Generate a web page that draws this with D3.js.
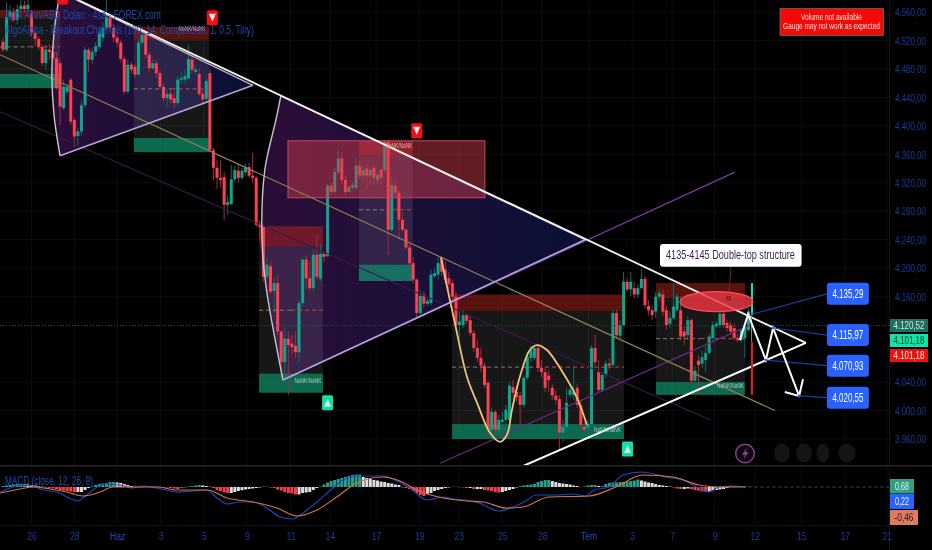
<!DOCTYPE html>
<html><head><meta charset="utf-8">
<script src="https://cdn.jsdelivr.net/npm/d3@7/dist/d3.min.js"></script>
<style>html,body{margin:0;padding:0;background:#000;overflow:hidden}svg{display:block;filter:blur(.3px)}text{font-family:"Liberation Sans",sans-serif}</style>
</head><body><svg id="c" width="932" height="550"></svg>
<script>
// ---------- candle data (4h bars) ----------
const opens=[4518,4507,4553,4560,4549,4564,4569,4564,4557,4531,
4522,4511,4488,4507,4504,4495,4488,4425,4448,4465,
4408,4386,4392,4429,4507,4493,4504,4511,4524,4538,
4552,4538,4524,4517,4494,4448,4486,4483,4472,4517,
4528,4500,4481,4488,4474,4455,4439,4445,4439,4432,
4465,4465,4467,4493,4476,4473,4445,4438,4474,4366,
4341,4327,4328,4289,4290,4325,4337,4327,4335,4342,
4330,4327,4262,4258,4188,4203,4168,4179,4111,4068,
4101,4094,4091,4082,4151,4212,4186,4172,4219,4185,
4220,4217,4316,4307,4335,4354,4324,4307,4313,4313,
4344,4330,4340,4330,4341,4324,4338,4338,4378,4254,
4316,4306,4268,4254,4229,4207,4184,4137,4163,4150,
4151,4189,4191,4212,4198,4186,4179,4160,4120,4120,
4134,4127,4109,4088,4074,4063,4039,3973,3998,3973,
3984,3987,3987,4033,4026,4021,4008,4046,4074,4074,
4088,4060,4054,4049,4032,4021,4016,3969,3977,4022,
4022,4032,4007,3977,3976,3981,4088,4054,4029,4050,
4066,4064,4137,4105,4120,4181,4170,4172,4163,4172,
4185,4147,4141,4139,4160,4163,4141,4122,4130,4141,
4141,4111,4106,4127,4042,4070,4066,4071,4081,4102,
4118,4120,4136,4123,4120,4116,4102,4099,4102,4113];
const closes=[4507,4553,4560,4549,4564,4569,4564,4570,4531,4522,
4511,4488,4507,4504,4495,4453,4427,4455,4455,4406,
4385,4392,4429,4507,4493,4504,4512,4531,4538,4553,
4538,4524,4517,4494,4448,4486,4479,4472,4517,4528,
4500,4481,4488,4474,4455,4439,4445,4437,4432,4465,
4467,4470,4494,4479,4479,4445,4437,4463,4366,4341,
4327,4324,4289,4293,4325,4338,4327,4337,4342,4330,
4327,4261,4258,4188,4205,4167,4179,4111,4068,4101,
4092,4089,4082,4151,4212,4186,4172,4219,4188,4220,
4216,4316,4307,4335,4354,4324,4307,4314,4317,4344,
4330,4338,4330,4338,4327,4331,4327,4378,4254,4317,
4306,4268,4254,4229,4207,4184,4137,4161,4150,4154,
4191,4193,4207,4195,4184,4178,4160,4120,4125,4134,
4126,4109,4088,4074,4063,4036,3973,3998,3973,3987,
3987,4001,4035,4025,4019,4008,4046,4075,4085,4088,
4060,4054,4032,4043,4021,4015,3969,3977,4011,4029,
4026,4008,3980,3973,3981,4088,4068,4029,4050,4066,
4063,4137,4106,4120,4181,4170,4181,4163,4172,4185,
4148,4141,4134,4160,4165,4139,4120,4130,4146,4160,
4104,4104,4127,4042,4056,4064,4075,4081,4104,4120,
4122,4136,4120,4116,4111,4102,4099,4113,4118,4139];
const highs=[4524,4574,4570,4566,4571,4577,4576,4577,4563,4535,
4526,4515,4514,4515,4510,4504,4493,4465,4459,4467,
4411,4397,4437,4511,4510,4510,4518,4538,4546,4577,
4560,4543,4532,4521,4498,4493,4490,4487,4521,4539,
4531,4504,4493,4493,4479,4459,4451,4451,4448,4470,
4476,4479,4514,4498,4484,4481,4453,4467,4479,4369,
4352,4352,4335,4303,4345,4344,4345,4341,4347,4348,
4362,4330,4268,4261,4215,4209,4186,4191,4113,4116,
4111,4106,4111,4155,4215,4219,4209,4226,4247,4233,
4223,4318,4320,4341,4366,4363,4330,4317,4321,4355,
4352,4344,4345,4344,4347,4335,4341,4380,4380,4330,
4324,4310,4279,4257,4234,4215,4186,4170,4167,4158,
4198,4200,4215,4217,4209,4195,4184,4167,4139,4141,
4137,4133,4113,4099,4088,4068,4043,4004,4001,3994,
3998,4008,4040,4043,4035,4026,4049,4082,4091,4092,
4091,4071,4060,4057,4037,4029,4022,3987,4032,4036,
4063,4037,4015,3984,3987,4092,4106,4071,4054,4071,
4074,4141,4141,4127,4195,4186,4195,4181,4178,4198,
4189,4155,4148,4167,4170,4170,4147,4139,4179,4164,
4161,4119,4133,4130,4063,4078,4085,4091,4108,4125,
4125,4139,4139,4127,4125,4122,4108,4105,4123,4144];
const lows=[4504,4504,4549,4546,4543,4560,4560,4560,4526,4512,
4507,4484,4479,4493,4490,4451,4401,4422,4445,4401,
4370,4372,4386,4425,4476,4487,4498,4507,4518,4535,
4532,4518,4510,4490,4444,4445,4473,4467,4470,4512,
4495,4476,4479,4467,4451,4434,4425,4431,4425,4428,
4459,4459,4465,4473,4472,4442,4431,4434,4363,4324,
4311,4313,4268,4275,4289,4321,4320,4324,4332,4327,
4320,4258,4240,4181,4184,4163,4137,4106,4046,4040,
4022,4078,4074,4068,4147,4170,4167,4167,4184,4181,
4209,4215,4303,4306,4331,4318,4303,4306,4310,4310,
4324,4321,4310,4317,4317,4318,4317,4335,4219,4251,
4302,4240,4251,4226,4203,4179,4130,4134,4144,4147,
4148,4186,4184,4189,4178,4170,4153,4113,4099,4116,
4122,4105,4082,4068,4054,4032,3964,3970,3970,3963,
3973,3967,3984,4015,4012,3981,4004,4043,4068,4071,
4054,4046,4026,4026,4015,4008,3945,3956,3973,4018,
4015,4004,3973,3967,3966,3978,4063,4026,4026,4046,
4057,4060,4102,4102,4119,4167,4161,4158,4158,4170,
4144,4134,4127,4130,4155,4133,4113,4116,4127,4139,
4099,4092,4099,4039,4021,4022,4060,4054,4078,4096,
4116,4116,4116,4111,4106,4099,4096,4096,4074,4111];
const lastBarUp=[4137,4179], lastBarMid=[4096,4137], lastBarDown=[4022,4096];

// ---------- axes ----------
const priceTicks=[4560,4520,4480,4440,4400,4360,4320,4280,4240,4200,4160,4040,4000,3960];
const timeTickBars=[8,20,32,44.2,56.3,68.4,80.6,91.6,104.6,116.7,127.8,140,151.2,164.2,176.4,187.6,199.5,210.8,223.8,236,247.8];
const timeTickLabels=["26","28","Haz","3","5","9","11","14","17","19","23","25","28","Tem","3","7","9","12","15","17","21"];
const monthLabels=["Haz","Tem"];
const lastPrice=4120.52, tagGreen="4.101,18", tagRed="4.101,18";
const macdTags=["0,68","0,22","-0,46"];

// ---------- MACD pane ----------
const histogram=[2,3,4,5,6,6,6,5,4,3,1,.6,-1,-2,-3,-4,-6,-7,-8,-9,-10,-10,-10,-6,-2,1,4,6,7,8,10,10,9,8,6,4,2,.6,-.4,-.4,.4,.6,.6,.6,.4,-.6,-1,-2,-3,-4,-1,-.6,1,2,3,4,3,2,.6,-2,-6,-8,-11,-12,-12,-10,-8,-6.4,-5,-4,-3,-2,-1,1,1,-1,-2,-5,-7,-10,-12,-13,-15,-15,-12,-11,-10,-6,-2,1,5,9,12,14,16,18,20,22,24,25,25,20,18,16,14,13,11,10,8,7,5,4,-1,-2,-4,-8,-12,-16,-18,-14,-12,-8,-6,-4,-2,-1,.6,.6,-.6,-1,-2,-2,-4,-4,-4,-6,-7,-8,-10,-11,-10,-8,-6,-4,-1,2,3,4,5,6,10,12,14,14,12,10,8,7,6,5,3,2,-.6,1,3,4,4,2,1,6,8,9,9,10,10,11,12,13,15,13,11,9,8,6,4,3,2,1,-1,-3,-4,-4,-3,-4,-6,-7,-9,-10,-9,-7,-6,-5,-4,-2,2,1,1,1,.6,.6,.4];
const macdBars=[-.8,2,4.8,8.4,11.2,15.1,17.9,21,22.4,26.4,29.2,32.8,36.4,39.2,43.2,48.8,53.3,57.2,60,62.8,66.4,70.1,74,77.7,81.3,83.3,88,92.5,95.3,99.2,106.5,110.5,114.1,118.9,123.4,126.2,129.8,133.5,139,143,146.6,149.4,155,159.8,163.4,165.7,169.9,173.8,178.9,185.9,190.6,195.1,198,200.7,204.1,208.3];
const macdLine=[-10,-2,4,2,-6,-10,-20,-28,-22,0,6,4,-2,2,-2,-10,-8,-6,-22,-34,-30,-30,-42,-60,-64,-56,-30,-2,14,22,22,12,-2,-26,-20,-24,-26,-32,-48,-40,-28,-16,-16,-14,-18,-6,0,24,30,20,14,-2,-10,0,2,0];
const signalBars=[-.8,4.8,8.4,13.2,17.9,22.4,27.2,30.8,36.4,43.2,48.8,57.2,62.8,70.1,76.8,82.4,88,93.6,99.2,106.5,111.3,116,123.4,129.8,134.6,141,145.8,153,164.3,171.8,179.4,187.8,195.1,200.7,208.3];
const signalLine=[-12,-4,0,-4,-10,-18,-10,0,0,0,-6,-6,-22,-30,-42,-58,-46,-20,8,20,12,-6,-22,-28,-30,-42,-40,-20,-18,0,24,20,4,0,0];

// ---------- drawings, as [bar, price] ----------
const trendTop=[[21,4577],[225.1,4095]], trendBottom=[[145.8,3922],[225.1,4095]];
const tanLine=[[-.84,4500],[216.4,4000]], purpleDown=[[-.84,4420],[198.2,3987]];
const purpleUpA=[[78.5,4043],[205.2,4335]], purpleUpB=[[122.5,3926],[209.4,4120]];
const wedge1Arc=[[16,4358],[14.3,4415],[13.7,4473],[14.3,4531],[16,4588]], wedge1Apex=[70.1,4457];
const wedge2Arc=[[78.5,4043],[73.7,4176],[72.6,4243],[73.4,4338],[76.5,4408],[77.9,4442]], wedge2Apex=[163.2,4240];
const resistanceZone=[79.9,135.1,4379,4299];
// barStart, barEnd, redTop, redBottom, greenTop, greenBottom, mid
const boxStart=[-1,36.7,71.8,99.8,125.9,183.1], boxEnd=[16,57.8,89.7,114.9,174.1,208];
const boxRedTop=[4563,4539,4259,4379,4163,4179], boxRedBottom=[4552,4521,4231,4359,4140,4158];
const boxGreenTop=[4473,4383,4052,4205,3981,4040], boxGreenBottom=[4453,4363,4025,4182,3960,4022];
const boxMid=[4511,4452,4141,4282,4061,4101];
const cupCurve=[[122.8,4215],[125.3,4155],[126.7,4123],[130.1,4047],[132.9,4011],[136.5,3969],[139.3,3956],[141.3,3966],[142.7,4001],[144.9,4047],[147.7,4085],[149.7,4092],[152.5,4085],[157,4053],[160.9,4018],[163.7,3980]];
const targetValues=[4135.29,4115.97,4070.93,4020.55];
const targetLabels=["4.135,29","4.115,97","4.070,93","4.020,55"];
const targetAnchorBars=[210,215.9,213.9,223.2];
const targetTagPrices=[4164,4106,4063,4018];
const zigzagBars=[206.6,208.9,213.9,215.9,223.2];
const zigzagPrices=[4099,4135.29,4070.93,4115.97,4020.55];
const arrowHead=[[219.2,4026],[223.2,4020.55],[224.3,4044]];
const ellipseZone=[189.8,210.3,4167,4139];
const noteText="4135-4145 Double-top structure";
const downFlags=[[16.7,4581],[58.7,4552],[116,4393]], upFlags=[[91,4011],[175.1,3946]];
const nanTags=[[53,4533,"r"],[85.5,4038,"g"],[111,4369,"r"],[169.5,3970,"g"],[204,4031,"g"]];

// ---------- scales ----------
const W=932,H=550,axisX=889,paneBottom=465;
const x=d3.scaleLinear().domain([0,210]).range([3,752]);
const y=d3.scaleLinear().domain([4560,3960]).range([12,439]);
const ym=d3.scaleLinear().domain([0,1]).range([487,486.5]);
const svg=d3.select("#c");
const defs=svg.append("defs");
defs.append("clipPath").attr("id","pane").append("rect").attr("width",axisX).attr("height",paneBottom);
function grad(id,a,b){const g=defs.append("linearGradient").attr("id",id).attr("gradientUnits","userSpaceOnUse")
  .attr("x1",x(a)).attr("x2",x(b)).attr("y1",0).attr("y2",0);
  g.append("stop").attr("offset",0).attr("stop-color","#2c0e38");g.append("stop").attr("offset",1).attr("stop-color","#0a1036");}
grad("w1",wedge1Arc[2][0],wedge1Apex[0]);grad("w2",wedge2Arc[2][0],wedge2Apex[0]);

// squeeze a text horizontally to a target width (the reference type is condensed)
function fit(sel,w,factor){sel.each(function(){const l=this.getComputedTextLength();const x0=+this.getAttribute("x")||0;
  const s=factor||w/l;this.setAttribute("transform",`translate(${x0},0) scale(${s},1) translate(${-x0},0)`);});return sel;}

svg.append("rect").attr("width",W).attr("height",H).attr("fill","#000");
// grid
const grid=svg.append("g").attr("stroke","#0b0d11").attr("stroke-width",1);
priceTicks.forEach(p=>grid.append("line").attr("x1",0).attr("x2",axisX).attr("y1",y(p)).attr("y2",y(p)));
timeTickBars.forEach(b=>grid.append("line").attr("x1",x(b)).attr("x2",x(b)).attr("y1",0).attr("y2",525));

const main=svg.append("g").attr("clip-path","url(#pane)");
const ln=d3.line().x(d=>x(d[0])).y(d=>y(d[1]));
const arc=d3.line().x(d=>x(d[0])).y(d=>y(d[1])).curve(d3.curveCatmullRom);
function seg(g,pts,col,w,extra){const s=g.append("path").attr("d",ln(pts)).attr("fill","none").attr("stroke",col).attr("stroke-width",w);if(extra)s.attr("stroke-dasharray",extra);return s;}
// wedges
[[wedge1Arc,wedge1Apex,"w1"],[wedge2Arc,wedge2Apex,"w2"]].forEach(([a,p,id])=>{
  main.append("path").attr("d",arc(a)+"L"+x(p[0])+","+y(p[1])+"Z").attr("fill",`url(#${id})`);
});
// boxes
boxStart.forEach((s,i)=>{
  const r=(t,b,f)=>main.append("rect").attr("x",x(s)).attr("width",x(boxEnd[i])-x(s)).attr("y",y(t)).attr("height",y(b)-y(t)).attr("fill",f);
  r(boxRedTop[i],boxRedBottom[i],"rgba(190,40,30,.47)");
  r(boxRedBottom[i],boxGreenTop[i],"rgba(255,255,255,.09)");
  r(boxGreenTop[i],boxGreenBottom[i],"rgba(20,175,130,.6)");
});
// candles
const idx=d3.range(opens.length);
const cg=main.append("g");
const up="#0ea58b",dn="#fb4152",upW="#0a6f60",dnW="#a52a3c";
cg.selectAll("line").data(idx).join("line").attr("x1",i=>x(i)).attr("x2",i=>x(i))
  .attr("y1",i=>y(highs[i])).attr("y2",i=>y(lows[i])).attr("stroke-width",1)
  .attr("stroke",i=>closes[i]>=opens[i]?upW:dnW);
cg.selectAll("rect").data(idx).join("rect").attr("x",i=>x(i)-1.5).attr("width",3)
  .attr("y",i=>y(Math.max(opens[i],closes[i]))).attr("height",i=>Math.max(1.2,Math.abs(y(opens[i])-y(closes[i]))))
  .attr("fill",i=>closes[i]>=opens[i]?up:dn);
// resistance zone
main.append("rect").attr("x",x(resistanceZone[0])).attr("width",x(resistanceZone[1])-x(resistanceZone[0]))
  .attr("y",y(resistanceZone[2])).attr("height",y(resistanceZone[3])-y(resistanceZone[2]))
  .attr("fill","rgba(214,62,76,.46)").attr("stroke","#c8475f").attr("stroke-width",1);
// mid dashes
boxStart.forEach((s,i)=>{const m=(s+boxEnd[i])/2;
  seg(main,[[s,boxMid[i]],[m,boxMid[i]]],"#7f8078",1,"4 3");
  seg(main,[[m,boxMid[i]],[boxEnd[i],boxMid[i]]],"#c8404a",1,"4 3");
});
// price line
main.append("line").attr("x1",0).attr("x2",axisX).attr("y1",y(lastPrice)+.8).attr("y2",y(lastPrice)+.8).attr("stroke","#0f5f55").attr("stroke-width",1).attr("stroke-dasharray","1 2");
// trend lines
seg(main,purpleDown,"#3b1a4a",1.1);
seg(main,purpleUpB,"#6b2a85",1.2);
seg(main,purpleUpA,"#7a3a9a",1.3);
seg(main,tanLine,"#8f7d55",1.2);
[[wedge1Arc,wedge1Apex],[wedge2Arc,wedge2Apex]].forEach(([a,p])=>{
  main.append("path").attr("d",arc(a)).attr("fill","none").attr("stroke","#c9c4d2").attr("stroke-width",1.4);
  seg(main,[a[0],p],"#b5a5d6",1.6);
  seg(main,[a[a.length-1],p],"#b9b4c8",1.3);
});
seg(main,trendTop,"#f4f4f4",1.8);
seg(main,trendBottom,"#fff",2);
main.append("path").attr("d",arc(cupCurve)).attr("fill","none").attr("stroke","#efc27a").attr("stroke-width",1.8);
// NaN tags
nanTags.forEach(t=>fit(main.append("text").attr("x",x(t[0])).attr("y",y(t[1])).attr("font-size",6.5).attr("text-anchor","middle")
  .attr("fill",t[2]=="g"?"#a9c8c0":"#e8a8a8").text("NaNK/NaNK"),27));
// last bar
[[lastBarUp,"#0fe3a5"],[lastBarMid,"#8f7d55"],[lastBarDown,"#f01818"]].forEach(([r,c])=>
  main.append("rect").attr("x",x(210)-1).attr("width",c=="#8f7d55"?1:2).attr("y",y(r[1])).attr("height",y(r[0])-y(r[1])).attr("fill",c));
// ellipse
const ex0=x(ellipseZone[0]),ex1=x(ellipseZone[1]),ey0=y(ellipseZone[2]),ey1=y(ellipseZone[3]);
main.append("line").attr("x1",x(204.2)).attr("x2",x(203.4)).attr("y1",y(4205)).attr("y2",y(4158)).attr("stroke","#6a2546").attr("stroke-width",1);
main.append("ellipse").attr("cx",(ex0+ex1)/2).attr("cy",(ey0+ey1)/2).attr("rx",(ex1-ex0)/2).attr("ry",(ey1-ey0)/2)
  .attr("fill","rgba(236,54,66,.82)").attr("stroke","#ff4d5a").attr("stroke-width",1.2);
main.append("circle").attr("cx",x(203.4)).attr("cy",y(4158)).attr("r",1.8).attr("fill","none").attr("stroke","#5a1020").attr("stroke-width",1);
// note
const nb=[184.2,223.9,4234,4202];
main.append("rect").attr("x",x(nb[0])).attr("width",x(nb[1])-x(nb[0])).attr("y",y(nb[2])).attr("height",y(nb[3])-y(nb[2])).attr("rx",3).attr("fill","#fff");
fit(main.append("text").attr("x",x(nb[0])+6).attr("y",y(nb[2])+15.5).attr("font-size",12).attr("fill","#3a1d4e").text(noteText),129);
// connectors + target tags
targetValues.forEach((v,i)=>{
  seg(main,[[targetAnchorBars[i],v],[231,targetTagPrices[i]]],"#1b3c9c",1.2);
});
// zigzag
const zig=zigzagBars.map((b,i)=>[b,zigzagPrices[i]]);
main.append("path").attr("d",ln(zig)).attr("fill","none").attr("stroke","#fff").attr("stroke-width",2).attr("stroke-linejoin","miter");
main.append("path").attr("d",ln(arrowHead)).attr("fill","none").attr("stroke","#fff").attr("stroke-width",2);
targetValues.forEach((v,i)=>main.append("circle").attr("cx",x(targetAnchorBars[i])).attr("cy",y(v)).attr("r",1.4).attr("fill","#2962ff"));
targetValues.forEach((v,i)=>{
  const cy=y(targetTagPrices[i]);
  main.append("rect").attr("x",x(231)).attr("width",42).attr("y",cy-11).attr("height",22).attr("rx",3).attr("fill","#2962ff");
  fit(main.append("text").attr("x",x(231)+21).attr("y",cy+4).attr("text-anchor","middle").attr("font-size",12).attr("fill","#fff").text(targetLabels[i]),31);
});
// flags
function flag(b,p,col,dir,tri){const cx=x(b),cy=y(p);
  main.append("rect").attr("x",cx-5.5).attr("y",cy-7.5).attr("width",11).attr("height",15).attr("rx",1.5).attr("fill",col);
  const t=dir<0?[[-3.5,-4],[3.5,-4],[0,4]]:[[-3.5,4],[3.5,4],[0,-4]];
  main.append("polygon").attr("points",t.map(q=>[cx+q[0],cy+q[1]].join(",")).join(" ")).attr("fill",tri);
}
downFlags.forEach(f=>flag(f[0],f[1],"#f40f14",-1,"#f2e6e6"));
upFlags.forEach(f=>flag(f[0],f[1],"#10e0a8",1,"#d4e6e0"));
// lightning + pills
const iconX=[782,804,823,847],iconR=[8,8,6.5,8.5];
iconX.forEach((cx,i)=>svg.append("ellipse").attr("cx",cx).attr("cy",453).attr("rx",iconR[i]).attr("ry",9.5).attr("fill","#141414"));
svg.append("circle").attr("cx",745).attr("cy",453.5).attr("r",9.3).attr("fill","#0c0510").attr("stroke","#8c3d8a").attr("stroke-width",1.5);
svg.append("path").attr("d","M747,447L742,455H745L743.5,460L748.5,452H745.5Z").attr("fill","#8c3d8a");

// ---------- legend ----------
const leg=svg.append("g").attr("fill","#1a4bb0");
fit(leg.append("text").attr("x",5).attr("y",19).attr("font-size",13).text("Spot Altın/ABD Doları · 4sa · FOREX.com"),156);
fit(leg.append("text").attr("x",5).attr("y",34).attr("font-size",13).text("AlgoAlpha - Breakout Channels (100, 14, Comparison, 1, 0,5, Tiny)"),249);
fit(leg.append("text").attr("x",5).attr("y",485).attr("font-size",13).text("MACD (close, 12, 26, 9)"),88);

// ---------- notice ----------
svg.append("rect").attr("x",780).attr("y",8.5).attr("width",103.5).attr("height",27).attr("fill","#f50808").attr("stroke","#4f8f7f").attr("stroke-width",.6);
[["Volume not available",20,61],["Gauge may not work as expected",29.5,97]].forEach(t=>
  fit(svg.append("text").attr("x",831.5).attr("y",t[1]).attr("text-anchor","middle").attr("font-size",9.5).attr("fill","#f6e6d6").text(t[0]),t[2]));

// ---------- panes / separators ----------
svg.append("rect").attr("x",0).attr("y",465).attr("width",W).attr("height",1.5).attr("fill","#262626");
svg.append("rect").attr("x",0).attr("y",525).attr("width",axisX).attr("height",1).attr("fill","#0a0f20");
svg.append("rect").attr("x",axisX).attr("y",0).attr("width",1).attr("height",H).attr("fill","#10141c");

// ---------- MACD ----------
const hg=svg.append("g");
hg.selectAll("rect").data(histogram).join("rect")
  .attr("x",(d,i)=>x(i)-1.5).attr("width",3)
  .attr("y",d=>ym(Math.max(d,0))).attr("height",d=>Math.abs(ym(d)-ym(0)))
  .attr("fill",(d,i)=>{const pv=i?histogram[i-1]:0;
    if(d>=0) return d>=pv?"#2a9d8a":"#dcdcdc"; return d<pv?"#f4404a":"#dcdcdc";});
svg.append("line").attr("x1",x(209)).attr("x2",axisX).attr("y1",ym(0)).attr("y2",ym(0)).attr("stroke","#4a4a4a").attr("stroke-dasharray","3 3");
const ml=(bars,vals,col)=>svg.append("path").attr("d",d3.line().x((d,i)=>x(bars[i])).y(d=>ym(d)).curve(d3.curveMonotoneX)(vals))
  .attr("fill","none").attr("stroke",col).attr("stroke-width",1.2);
ml(macdBars,macdLine,"#1c45c8");
ml(signalBars,signalLine,"#d4763f");

// ---------- axes ----------
const fmt=d3.formatLocale({decimal:",",thousands:".",grouping:[3],currency:["",""]}).format(",.2f");
const axisCol="#1a3a98";
const fontCss='font-family:"Liberation Sans",sans-serif';
const ya=svg.append("g").attr("transform",`translate(${axisX},0)`).call(d3.axisRight(y).tickValues(priceTicks).tickSize(0).tickPadding(6).tickFormat(fmt));
ya.select(".domain").remove();
fit(ya.selectAll("text").attr("font-size",11.5).attr("fill",axisCol).attr("style",fontCss),31);
const xa=svg.append("g").attr("transform","translate(0,530)").call(d3.axisBottom(x).tickValues(timeTickBars).tickSize(0).tickPadding(2).tickFormat((d,i)=>timeTickLabels[i]));
xa.select(".domain").remove();
xa.selectAll("text").attr("font-size",11.5).attr("fill",axisCol).attr("style",fontCss);
xa.selectAll("text").filter(function(){return monthLabels.includes(this.textContent)}).attr("fill","#1c4cc0");
xa.selectAll("g.tick").each(function(){const t=d3.select(this).select("text");fit(t,null,.75);});

// ---------- axis tags ----------
function tag(y0,h,w,bg,col,t,tw){svg.append("rect").attr("x",axisX+1).attr("y",y0).attr("width",w).attr("height",h).attr("fill",bg);
  fit(svg.append("text").attr("x",axisX+1+w/2).attr("y",y0+h/2+4).attr("text-anchor","middle").attr("font-size",11.5).attr("fill",col).text(t),tw);}
tag(319,13,38,"#1f6f5e","#cfe6df",fmt(lastPrice),31);
tag(334,13,38,"#0fe3a5","#04382c",tagGreen,31);
tag(349,13,38,"#f01010","#f8e8e0",tagRed,31);
tag(479,14.5,24,"#2f9e85","#e4f0ec",macdTags[0],14);
tag(494,15,24,"#2962ff","#f0f4ff",macdTags[1],14);
tag(510,15,28,"#e07a5f","#2a1810",macdTags[2],19);
</script></body></html>
